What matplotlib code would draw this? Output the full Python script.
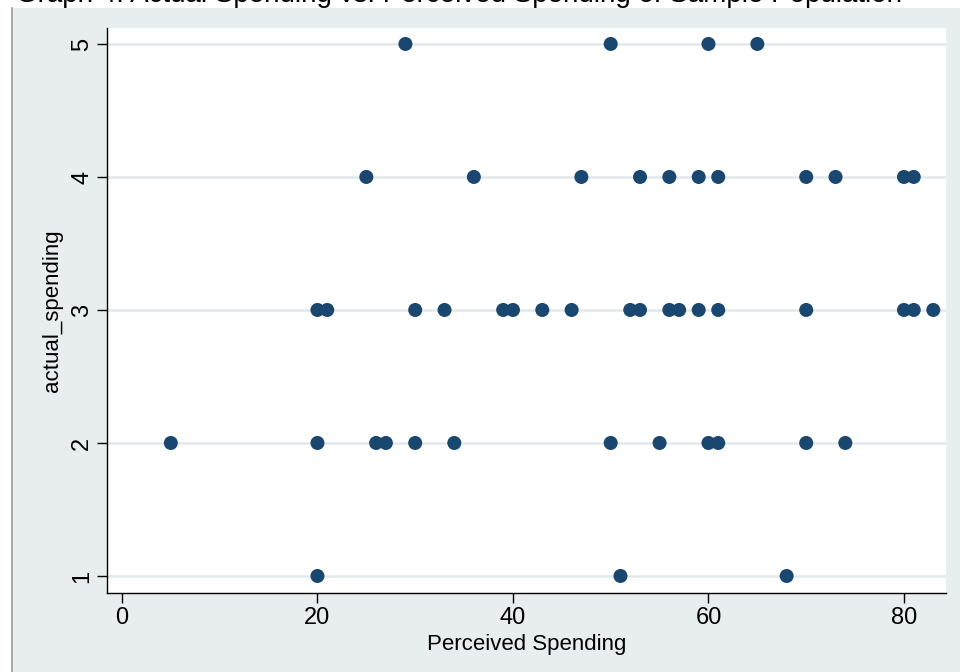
import matplotlib.pyplot as plt
from matplotlib.patches import Rectangle
from matplotlib.lines import Line2D

plt.rcParams['font.family'] = ['Liberation Sans', 'DejaVu Sans']

# perceived spending (x) grouped by actual_spending level (y)
x_5 = [29, 50, 60, 65]
x_4 = [25, 36, 47, 53, 56, 59, 61, 70, 73, 80, 81]
x_3 = [20, 21, 30, 33, 39, 40, 43, 46, 52, 53, 56, 57, 59, 61, 70, 80, 81, 83]
x_2 = [5, 20, 26, 27, 30, 34, 50, 55, 60, 61, 70, 74]
x_1 = [20, 51, 68]

perceived = x_5 + x_4 + x_3 + x_2 + x_1
actual = [5]*len(x_5) + [4]*len(x_4) + [3]*len(x_3) + [2]*len(x_2) + [1]*len(x_1)

bg = '#e8eeef'
navy = '#1a476f'

fig = plt.figure(figsize=(9.6, 6.72), dpi=100)
fig.patch.set_facecolor('white')
fig.patches.append(Rectangle((13/960, 0), 1, 664/672, transform=fig.transFigure,
                             facecolor=bg, edgecolor='none', zorder=-10))
fig.lines.append(Line2D([12/960, 12/960], [0, 664/672], transform=fig.transFigure,
                        color='#9a9a9a', lw=1.2, zorder=-5))

# title is cut off at the top edge, as in the original screenshot
fig.text(0.478, 1 - 1.5/672, 'Graph 4: Actual Spending vs. Perceived Spending of Sample Population',
         ha='center', va='baseline', fontsize=20)

ax = fig.add_axes([107/960, 79/672, 839/960, 565/672])
ax.set_facecolor('white')
ax.scatter(perceived, actual, s=102, color=navy, edgecolors='none', zorder=3)

ax.set_xlim(-1.53, 84.3)
ax.set_ylim(0.872, 5.12)
ax.set_xticks([0, 20, 40, 60, 80])
ax.set_yticks([1, 2, 3, 4, 5])
ax.grid(axis='y', color='#e1e9eb', lw=1.8, zorder=0)
ax.grid(axis='x', visible=False)

for s in ['top', 'right']:
    ax.spines[s].set_visible(False)
for s in ['left', 'bottom']:
    ax.spines[s].set_color('black')
    ax.spines[s].set_linewidth(1.0)

ax.tick_params(direction='out', length=7, width=1, labelsize=17, pad=3)
for lab in ax.get_yticklabels():
    lab.set_rotation(90)
    lab.set_va('center')

ax.set_xlabel('Perceived Spending', fontsize=16, labelpad=4)
ax.set_ylabel('actual_spending', fontsize=16, labelpad=6)

fig.savefig('out.png', dpi=100, facecolor=fig.get_facecolor())
